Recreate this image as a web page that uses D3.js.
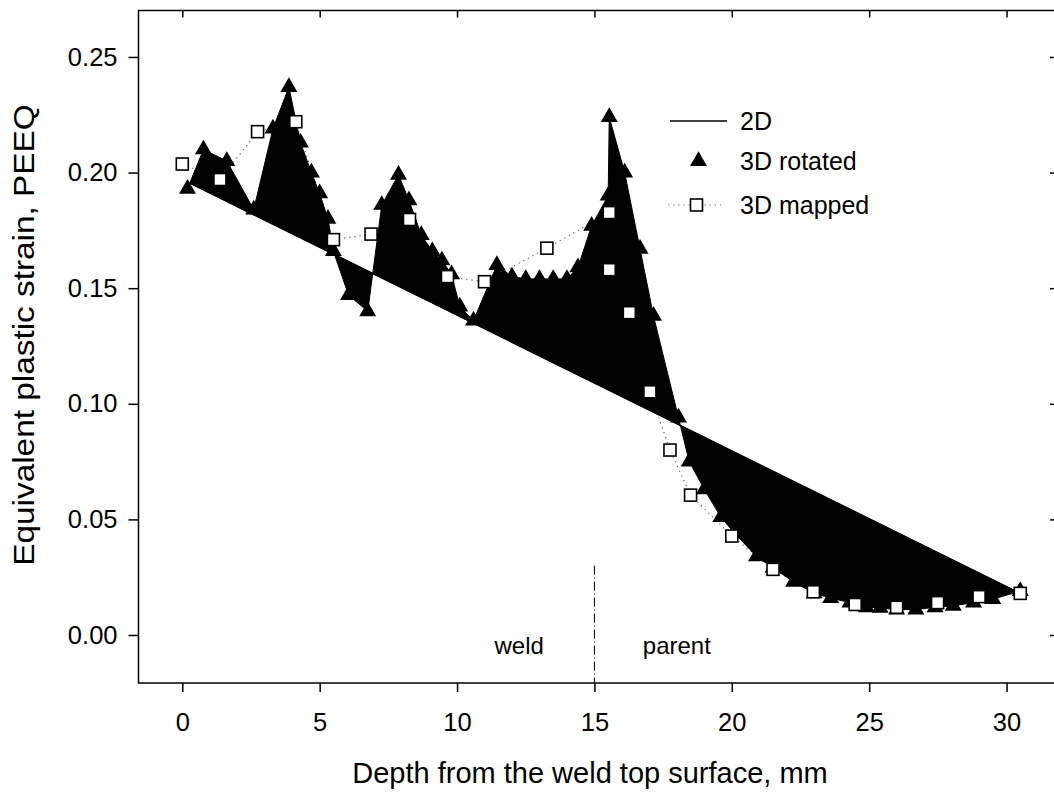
<!DOCTYPE html>
<html><head><meta charset="utf-8">
<script src="https://cdn.jsdelivr.net/npm/d3@7"></script>
<style>body{margin:0;background:#fff} text{font-family:Arial,"Liberation Sans",sans-serif;fill:#000}</style>
</head><body><svg id="c" width="1054" height="797"></svg>
<script>
const xTicks=[0,5,10,15,20,25,30];
const yTicks=[0,0.05,0.10,0.15,0.20,0.25];
const line2dX=[0.18,30.5];
const line2dY=[0.196,0.018];
const rotX=[0.19,0.77,1.62,2.60,3.30,3.88,4.30,4.70,5.00,5.30,5.50,6.05,6.75,7.26,7.87,8.25,8.70,9.10,9.45,9.80,10.10,10.60,11.45,12.00,12.50,13.00,13.50,14.00,14.40,14.90,15.50,15.54,16.10,16.66,17.15,18.06,18.45,19.00,19.60,20.10,20.90,21.50,22.25,23.00,23.60,24.30,24.90,25.40,26.00,26.70,27.40,28.06,28.80,29.50,30.50];
const rotY=[0.193,0.210,0.205,0.184,0.219,0.237,0.213,0.200,0.191,0.180,0.166,0.147,0.140,0.186,0.199,0.188,0.173,0.166,0.162,0.156,0.142,0.136,0.160,0.155,0.154,0.154,0.154,0.154,0.159,0.177,0.190,0.224,0.200,0.167,0.138,0.094,0.075,0.063,0.051,0.044,0.034,0.029,0.023,0.018,0.016,0.014,0.012,0.0117,0.011,0.011,0.012,0.0126,0.014,0.0155,0.019];
const mapX=[0,1.37,2.74,4.13,5.5,6.87,8.27,9.65,11.0,13.27,15.54,15.54,16.27,17.02,17.75,18.5,20.0,21.5,22.97,24.49,26.0,27.49,29.0,30.5];
const mapY=[0.2037,0.197,0.2177,0.222,0.171,0.1734,0.1797,0.155,0.1528,0.1673,0.1827,0.158,0.1394,0.1052,0.080,0.0605,0.0428,0.0284,0.0187,0.0132,0.0120,0.014,0.0166,0.018];
const legendLabels=["2D","3D rotated","3D mapped"];
const xTitle="Depth from the weld top surface, mm";
const yTitle="Equivalent plastic strain, PEEQ";
const zoneLabels=["weld","parent"];
const zoneX=[12.26,18.0];
const boundaryX=15;

const svg=d3.select("#c");
const L=138.5,R=1056,T=10.5,B=683;
const x=d3.scaleLinear().domain([-1.594,31.8]).range([L,R]);
const y=d3.scaleLinear().domain([-0.02076,0.2701]).range([B,T]);

svg.append("rect").attr("x",L).attr("y",T).attr("width",R-L).attr("height",B-T)
  .attr("fill","none").attr("stroke","#000").attr("stroke-width",1.5);

const fs=25.5;
const xb=svg.append("g").attr("transform",`translate(0,${B})`)
  .call(d3.axisBottom(x).tickValues(xTicks).tickSize(9).tickPadding(21).tickFormat(d3.format("d")));
const xt=svg.append("g").attr("transform",`translate(0,${T})`)
  .call(d3.axisBottom(x).tickValues(xTicks).tickSize(7).tickFormat(""));
const yl=svg.append("g").attr("transform",`translate(${L},0)`)
  .call(d3.axisLeft(y).tickValues(yTicks).tickSize(10).tickPadding(11).tickFormat(d3.format(".2f")));
const yr=svg.append("g").attr("transform",`translate(${R},0)`)
  .call(d3.axisLeft(y).tickValues(yTicks).tickSize(6).tickFormat(""));
[xb,xt,yl,yr].forEach(g=>{g.select(".domain").remove();
  g.selectAll("line").attr("stroke","#000").attr("stroke-width",1.5);
  g.selectAll("text").attr("font-size",fs).attr("font-family","Arial, 'Liberation Sans', sans-serif").attr("fill","#000");});

const mapPts=mapX.map((v,i)=>[v,mapY[i]]);
svg.append("path").attr("d",d3.line().x(d=>x(d[0])).y(d=>y(d[1]))(mapPts))
  .attr("fill","none").attr("stroke","#666").attr("stroke-width",1.2).attr("stroke-dasharray","1.2,4");

const rotPts=rotX.map((v,i)=>[v,rotY[i]]);
const l2d=line2dX.map((v,i)=>[v,line2dY[i]]);
const poly=rotPts.concat(l2d.slice().reverse());
svg.append("path").attr("d",d3.line().x(d=>x(d[0])).y(d=>y(d[1]))(poly)+"Z")
  .attr("fill","#000").attr("stroke","#000").attr("stroke-width",1);

svg.append("path").attr("d",d3.line().x(d=>x(d[0])).y(d=>y(d[1]))(l2d))
  .attr("fill","none").attr("stroke","#000").attr("stroke-width",1.5);

const tri=d3.symbol().type(d3.symbolTriangle).size(125);
svg.append("g").selectAll("path").data(rotPts).join("path")
  .attr("d",tri).attr("transform",d=>`translate(${x(d[0])},${y(d[1])})`).attr("fill","#000");

const sq=12;
svg.append("g").selectAll("rect").data(mapPts).join("rect")
  .attr("x",d=>x(d[0])-sq/2).attr("y",d=>y(d[1])-sq/2).attr("width",sq).attr("height",sq)
  .attr("fill","#fff").attr("stroke","#000").attr("stroke-width",1.6);

svg.append("line").attr("x1",x(boundaryX)).attr("x2",x(boundaryX)).attr("y1",y(0.030)).attr("y2",B)
  .attr("stroke","#000").attr("stroke-width",1).attr("stroke-dasharray","9,3,1,3");
svg.selectAll(".zone").data(zoneLabels).join("text").attr("class","zone")
  .attr("x",(d,i)=>x(zoneX[i])).attr("y",y(-0.0082)).attr("text-anchor","middle")
  .attr("font-size",24).text(d=>d);

const lg=svg.append("g");
const lx0=670,lx1=727,ltx=740,ly=[121,161,205];
lg.append("line").attr("x1",lx0).attr("x2",lx1).attr("y1",ly[0]).attr("y2",ly[0]).attr("stroke","#000").attr("stroke-width",1.5);
lg.append("path").attr("d",tri).attr("transform",`translate(${(lx0+lx1)/2},${ly[1]})`).attr("fill","#000");
lg.append("line").attr("x1",lx0-2).attr("x2",lx1-2).attr("y1",ly[2]).attr("y2",ly[2]).attr("stroke","#666").attr("stroke-width",1.2).attr("stroke-dasharray","1.2,4");
lg.append("rect").attr("x",(lx0+lx1)/2-2-sq/2).attr("y",ly[2]-sq/2).attr("width",sq).attr("height",sq).attr("fill","#fff").attr("stroke","#000").attr("stroke-width",1.6);
lg.selectAll("text").data(legendLabels).join("text").attr("x",ltx).attr("y",(d,i)=>ly[i]).attr("dy","0.35em")
  .attr("font-size",25).text(d=>d);

svg.append("text").attr("x",590).attr("y",783).attr("text-anchor","middle").attr("font-size",29).text(xTitle);
svg.append("text").attr("transform","translate(34,335) rotate(-90) scale(1.15,1)").attr("text-anchor","middle").attr("font-size",29).text(yTitle);
</script></body></html>
